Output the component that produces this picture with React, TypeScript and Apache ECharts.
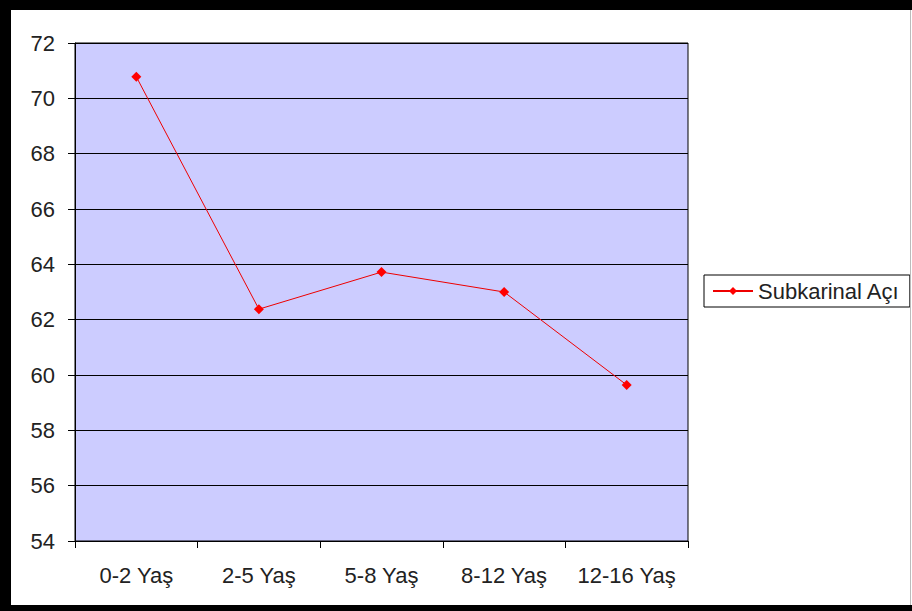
import React, { useEffect, useRef } from "react";
import * as echarts from "echarts";

const categories = ["0-2 Yaş", "2-5 Yaş", "5-8 Yaş", "8-12 Yaş", "12-16 Yaş"];
const seriesName = "Subkarinal Açı";
const values = [70.78, 62.38, 63.72, 63.0, 59.64];
const yMin = 54;
const yMax = 72;
const yInterval = 2;

const FONT = "'Liberation Sans', Arial, sans-serif";

export default function App() {
  const ref = useRef<HTMLDivElement>(null);
  useEffect(() => {
    if (!ref.current) return;
    const chart = echarts.init(ref.current, undefined, { renderer: "svg" });
    chart.setOption({
      animation: false,
      backgroundColor: "#ffffff",
      textStyle: { fontFamily: FONT },
      graphic: [
        { type: "rect", left: 0, top: 0, shape: { width: 912, height: 10 }, style: { fill: "#000" }, z: 100 },
        { type: "rect", left: 0, top: 0, shape: { width: 11, height: 611 }, style: { fill: "#000" }, z: 100 },
        { type: "rect", left: 0, top: 605, shape: { width: 912, height: 6 }, style: { fill: "#000" }, z: 100 },
        { type: "rect", left: 910, top: 10, shape: { width: 1, height: 595 }, style: { fill: "#bbbbbb" }, z: 100 },
      ],
      grid: {
        left: 75,
        top: 43,
        width: 613,
        height: 498,
        show: true,
        backgroundColor: "#ccccff",
        borderColor: "#000",
        borderWidth: 1,
      },
      legend: {
        left: 704,
        top: 275,
        orient: "vertical",
        backgroundColor: "#ffffff",
        borderColor: "#000",
        borderWidth: 1,
        borderRadius: 0,
        padding: [5, 10, 5, 8],
        itemWidth: 40,
        itemHeight: 10,
        itemGap: 6,
        textStyle: { fontSize: 22, color: "#222", fontFamily: FONT },
        data: [seriesName],
      },
      xAxis: {
        type: "category",
        data: categories,
        boundaryGap: true,
        axisLine: { show: true, lineStyle: { color: "#000", width: 1 } },
        axisTick: { show: true, length: 7, interval: 0, lineStyle: { color: "#000" } },
        axisLabel: { fontSize: 22, color: "#222", margin: 23, interval: 0, fontFamily: FONT },
        splitLine: { show: false },
      },
      yAxis: {
        type: "value",
        min: yMin,
        max: yMax,
        interval: yInterval,
        axisLine: { show: true, lineStyle: { color: "#000", width: 1 } },
        axisTick: { show: true, length: 7, lineStyle: { color: "#000" } },
        axisLabel: { fontSize: 22, color: "#222", margin: 20, fontFamily: FONT },
        splitLine: { show: true, lineStyle: { color: "#000", width: 1 } },
      },
      series: [
        {
          name: seriesName,
          type: "line",
          data: values,
          symbol: "diamond",
          symbolSize: 10,
          itemStyle: { color: "#ff0000" },
          lineStyle: { color: "#ee0000", width: 1 },
        },
      ],
    });
    return () => chart.dispose();
  }, []);
  return (
    <div
      ref={ref}
      style={{ position: "absolute", left: 0, top: 0, width: 912, height: 611 }}
    />
  );
}
